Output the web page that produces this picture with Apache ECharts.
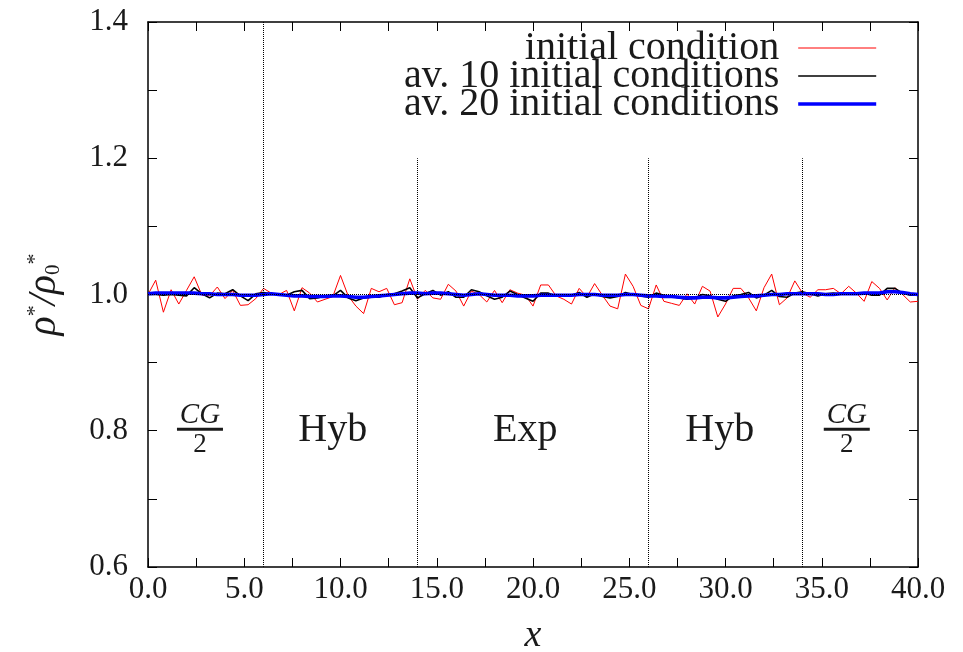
<!DOCTYPE html>
<html>
<head>
<meta charset="utf-8">
<script src="https://cdn.jsdelivr.net/npm/echarts@6/dist/echarts.min.js"></script>
<style>
  html, body { margin: 0; padding: 0; background: #fff; }
  #chart { width: 963px; height: 652px; }
</style>
</head>
<body>
<div id="chart"></div>
<script>
  // samples every 0.4 along x, from 0 to 40
  const xStep = 0.4
  const initialCond = [
    1.000, 1.021, 0.974, 1.007, 0.986, 1.006, 1.026, 0.999, 0.998, 1.011,
    0.994, 1.006, 0.984, 0.985, 0.994, 1.009, 1.002, 1.000, 1.006, 0.976,
    1.010, 1.002, 0.989, 0.993, 0.997, 1.028, 0.998, 0.983, 0.972, 1.009,
    1.004, 1.009, 0.985, 0.988, 1.023, 0.993, 1.006, 0.995, 0.993, 1.015,
    1.005, 0.983, 1.005, 1.000, 0.989, 1.006, 0.988, 1.007, 1.002, 0.999,
    0.983, 1.014, 1.014, 0.998, 0.993, 0.986, 1.009, 0.996, 1.016, 0.999,
    0.983, 0.979, 1.030, 1.012, 0.984, 0.979, 1.014, 0.990, 0.987, 0.984,
    1.001, 0.986, 1.012, 1.005, 0.967, 0.986, 1.009, 1.009, 0.995, 0.976,
    1.010, 1.030, 0.985, 0.995, 1.020, 1.002, 0.996, 1.007, 1.007, 1.009,
    1.001, 1.012, 1.002, 0.990, 1.019, 1.009, 0.992, 1.010, 1.000, 0.989,
    0.990
  ]
  const av10 = [
    1.000, 1.000, 0.999, 1.000, 0.999, 0.998, 1.010, 1.001, 0.995, 1.002,
    1.001, 1.007, 0.998, 0.991, 1.001, 1.003, 1.001, 1.000, 0.999, 1.004,
    1.006, 0.994, 0.995, 0.998, 0.998, 1.006, 0.995, 0.991, 0.995, 0.996,
    0.996, 1.000, 1.001, 1.005, 1.010, 0.995, 1.001, 1.006, 0.999, 1.004,
    0.996, 0.996, 1.007, 1.004, 0.998, 0.993, 0.996, 1.005, 1.000, 0.995,
    0.990, 1.002, 1.002, 0.998, 0.998, 0.999, 1.003, 0.996, 1.001, 0.997,
    0.995, 0.997, 1.003, 1.000, 0.998, 0.996, 1.002, 0.999, 0.997, 0.995,
    0.993, 0.995, 1.000, 0.998, 0.993, 0.990, 0.998, 1.000, 1.003, 0.995,
    0.999, 1.006, 0.997, 0.996, 1.002, 1.004, 1.001, 0.998, 1.001, 1.002,
    1.001, 1.001, 1.002, 1.002, 0.999, 0.999, 1.009, 1.009, 1.002, 0.999,
    0.999
  ]
  const av20 = [
    1.001, 1.002, 1.002, 1.002, 1.002, 1.002, 1.002, 1.001, 1.001, 1.000,
    1.000, 1.000, 0.999, 0.999, 0.999, 1.000, 1.001, 1.000, 0.999, 0.998,
    0.998, 0.997, 0.997, 0.997, 0.998, 0.998, 0.997, 0.996, 0.996, 0.997,
    0.998, 0.999, 1.000, 1.001, 1.002, 1.002, 1.001, 1.002, 1.002, 1.001,
    1.000, 0.999, 1.000, 1.001, 1.000, 0.999, 0.999, 0.999, 0.998, 0.998,
    0.998, 0.999, 0.999, 0.999, 0.999, 0.999, 1.000, 1.000, 1.000, 0.999,
    0.999, 0.999, 1.000, 1.000, 0.999, 0.998, 0.998, 0.997, 0.997, 0.996,
    0.995, 0.995, 0.996, 0.996, 0.995, 0.995, 0.996, 0.997, 0.998, 0.998,
    0.999, 1.000, 1.000, 1.001, 1.001, 1.001, 1.001, 1.001, 1.000, 1.000,
    1.001, 1.001, 1.001, 1.002, 1.002, 1.002, 1.004, 1.004, 1.003, 1.001,
    1.000
  ]
  const seriesNames = ['initial condition', 'av. 10 initial conditions', 'av. 20 initial conditions']
  const regionBounds = [6, 14, 26, 34]
  const boundTops = [1.4, 1.2, 1.2, 1.2]
  const regionNames = ['CG/2', 'Hyb', 'Exp', 'Hyb', 'CG/2']
  const regionX = [2.7, 9.6, 19.6, 29.7, 36.3]
  const regionY = 0.8

  const serif = 'Liberation Serif'
  const ink = '#1a1a1a'
  const lineColors = ['#ff0000', '#000000', '#0000ff']
  const lineWidths = [1, 1.6, 3.6]
  const toPairs = (arr) => arr.map((v, i) => [+(i * xStep).toFixed(1), v])

  const axisCommon = {
    type: 'value',
    axisLine: { onZero: false, lineStyle: { color: '#000', width: 1.5 } },
    axisTick: { inside: true, length: 9, lineStyle: { color: '#000', width: 1 } },
    minorTick: { show: true, splitNumber: 2, length: 9, lineStyle: { color: '#000', width: 1 } },
    splitLine: { show: false }
  }

  let chart = echarts.init(document.getElementById('chart'))
  let option = {
    animation: false,
    backgroundColor: '#fff',
    textStyle: { fontFamily: serif, color: ink },
    grid: { left: 148, right: 45, top: 22, bottom: 85, outerBoundsMode: 'none' },
    legend: {
      orient: 'vertical',
      align: 'right',
      right: 80,
      top: 23,
      itemGap: -12,
      itemWidth: 78,
      itemHeight: 14,
      itemStyle: { opacity: 0 },
      textStyle: { fontFamily: serif, fontSize: 40, color: ink, padding: [0, 14, 0, 0] },
      data: seriesNames.map((n, i) => ({
        name: n,
        lineStyle: { color: lineColors[i], width: lineWidths[i] }
      }))
    },
    xAxis: [
      Object.assign({}, axisCommon, {
        min: 0, max: 40, interval: 5, position: 'bottom',
        axisLabel: { formatter: v => v.toFixed(1), fontFamily: serif, fontSize: 31, color: ink, margin: 7 },
        name: 'x', nameLocation: 'middle', nameGap: 50,
        nameTextStyle: { fontFamily: serif, fontStyle: 'italic', fontSize: 38, color: ink }
      }),
      Object.assign({}, axisCommon, {
        min: 0, max: 40, interval: 5, position: 'top', axisLabel: { show: false }
      })
    ],
    yAxis: [
      Object.assign({}, axisCommon, {
        min: 0.6, max: 1.4, interval: 0.2, position: 'left',
        axisLabel: { formatter: v => v.toFixed(1), fontFamily: serif, fontSize: 31, color: ink, margin: 20 },
        name: '{a|ρ}{s|*}{a|/ρ}{b|0}{s|*}', nameLocation: 'middle', nameGap: 84, nameRotate: 90,
        nameTextStyle: {
          color: ink,
          rich: {
            a: { fontFamily: serif, fontStyle: 'italic', fontSize: 40, color: ink, lineHeight: 40 },
            s: { fontFamily: serif, fontSize: 22, color: ink, verticalAlign: 'top', lineHeight: 40 },
            b: { fontFamily: serif, fontSize: 21, color: ink, verticalAlign: 'bottom', lineHeight: 40 }
          }
        }
      }),
      Object.assign({}, axisCommon, {
        min: 0.6, max: 1.4, interval: 0.2, position: 'right', axisLabel: { show: false }
      })
    ],
    series: [
      {
        name: seriesNames[0],
        type: 'line',
        data: toPairs(initialCond),
        symbol: 'none',
        color: lineColors[0],
        lineStyle: { color: lineColors[0], width: lineWidths[0] },
        z: 2,
        markLine: {
          silent: true,
          symbol: ['none', 'none'],
          label: { show: false },
          lineStyle: { type: 'dotted', color: '#000', width: 1 },
          data: [{ yAxis: 1.0 }].concat(regionBounds.map((b, i) => [
            { coord: [b, 0.6] }, { coord: [b, boundTops[i]] }
          ]))
        }
      },
      {
        name: seriesNames[1],
        type: 'line',
        data: toPairs(av10),
        symbol: 'none',
        color: lineColors[1],
        lineStyle: { color: lineColors[1], width: lineWidths[1] },
        z: 3
      },
      {
        name: seriesNames[2],
        type: 'line',
        data: toPairs(av20),
        symbol: 'none',
        color: lineColors[2],
        lineStyle: { color: lineColors[2], width: lineWidths[2] },
        z: 4
      },
      {
        type: 'scatter',
        symbolSize: 0,
        silent: true,
        itemStyle: { opacity: 1 },
        data: regionNames.map((n, i) => [regionX[i], regionY, n]),
        label: {
          show: true,
          position: 'inside',
          color: ink,
          textBorderWidth: 0,
          formatter: p => p.data[2] === 'CG/2' ? '{n|CG}\n{bar| }\n{d|2}' : '{t|' + p.data[2] + '}',
          rich: {
            t: { fontFamily: serif, fontSize: 40, color: ink, textBorderWidth: 0 },
            n: { fontFamily: serif, fontStyle: 'italic', fontSize: 29, color: ink, lineHeight: 23, align: 'center', textBorderWidth: 0 },
            bar: { width: 46, height: 3, lineHeight: 5, fontSize: 1, backgroundColor: ink },
            d: { fontFamily: serif, fontSize: 27, color: ink, lineHeight: 26, align: 'center', textBorderWidth: 0 }
          }
        }
      }
    ]
  }
  chart.setOption(option)
</script>
</body>
</html>
